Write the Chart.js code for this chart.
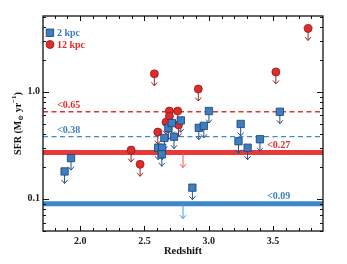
<!DOCTYPE html>
<html>
<head>
<meta charset="utf-8">
<script src="https://cdn.jsdelivr.net/npm/chart.js@4"></script>
<style>
  html, body { margin: 0; padding: 0; background: #fff; }
  #wrap { width: 347px; height: 264px; }
</style>
</head>
<body>
<div id="wrap"><canvas id="chart-sfr" width="347" height="264"></canvas></div>
<script>
// 2 kpc apertures (blue squares, all upper limits)
const blueZ = [1.878, 1.928, 2.606, 2.637, 2.635, 2.655, 2.686, 2.713, 2.730, 2.783,
  2.873, 2.923, 2.962, 3.002, 3.232, 3.249, 3.303, 3.399, 3.554];
const blueSfr = [0.18, 0.24, 0.30, 0.30, 0.26, 0.37, 0.46, 0.51, 0.38, 0.54,
  0.127, 0.46, 0.48, 0.66, 0.345, 0.50, 0.30, 0.36, 0.65];

// 12 kpc apertures (red circles, all upper limits)
const redZ = [2.396, 2.466, 2.577, 2.604, 2.668, 2.694, 2.694, 2.759, 2.765, 2.919, 3.523, 3.774];
const redSfr = [0.285, 0.21, 1.47, 0.42, 0.52, 0.66, 0.59, 0.66, 0.49, 1.06, 1.53, 3.9];

// limits: individual detection limits (dashed) and stacked limits (thick)
const limit12 = 0.65;
const limit2 = 0.38;
const stack12 = 0.27;
const stack2 = 0.09;
const stackZ = 2.8;

const zRange = [1.71, 3.89];
const sfrRange = [0.05, 5.1];
const xTickLabels = [2.0, 2.5, 3.0, 3.5];
const yTickLabels = [0.1, 1.0];

const SERIF = "'Liberation Serif', 'DejaVu Serif', serif";
const BLUE = "#3b7fc2";
const BLUE_DARK = "#1d3f70";
const RED = "#e22a2a";
const RED_DARK = "#8c1c1c";

const toPoints = (xs, ys) => xs.map((x, i) => ({ x: x, y: ys[i] }));
const hLine = (v) => [{ x: zRange[0], y: v }, { x: zRange[1], y: v }];

function drawArrow(ctx, x, y0, len, color) {
  ctx.save();
  ctx.strokeStyle = color;
  ctx.lineWidth = 1;
  ctx.beginPath();
  ctx.moveTo(x, y0);
  ctx.lineTo(x, y0 + len);
  ctx.moveTo(x - 3, y0 + len - 3.5);
  ctx.lineTo(x, y0 + len);
  ctx.lineTo(x + 3, y0 + len - 3.5);
  ctx.stroke();
  ctx.restore();
}

// arrows under the markers (drawn before the marker datasets)
const arrowPlugin = {
  id: "arrows",
  beforeDatasetDraw(chart, args) {
    if (args.index !== 1) return;
    const ctx = chart.ctx;
    const xs = chart.scales.x, ys = chart.scales.y;
    [0, 1].forEach((di) => {
      const ds = chart.data.datasets[di];
      chart.getDatasetMeta(di).data.forEach((pt) => {
        drawArrow(ctx, pt.x, pt.y, 12, ds.arrowColor);
      });
    });
    drawArrow(ctx, xs.getPixelForValue(stackZ), ys.getPixelForValue(stack12), 15, "#ee5a5a");
    drawArrow(ctx, xs.getPixelForValue(stackZ), ys.getPixelForValue(stack2), 15, "#4b98d6");
  },
};

// frame, inward ticks, labels, legend
const decorPlugin = {
  id: "decor",
  afterDraw(chart) {
    const ctx = chart.ctx;
    const a = chart.chartArea;
    const xs = chart.scales.x, ys = chart.scales.y;
    ctx.save();
    ctx.strokeStyle = "#111";
    ctx.lineWidth = 1.3;
    ctx.strokeRect(a.left, a.top, a.right - a.left, a.bottom - a.top);

    ctx.lineWidth = 1;
    ctx.beginPath();
    for (let k = 18; k <= 38; k++) {
      const px = Math.round(xs.getPixelForValue(k / 10)) + 0.5;
      const len = k % 5 === 0 ? 5 : 3;
      ctx.moveTo(px, a.bottom); ctx.lineTo(px, a.bottom - len);
      ctx.moveTo(px, a.top); ctx.lineTo(px, a.top + len);
    }
    [0.01, 0.1, 1].forEach((d) => {
      for (let m = 1; m <= 9; m++) {
        const v = m * d;
        if (v < sfrRange[0] || v > sfrRange[1]) continue;
        const py = Math.round(ys.getPixelForValue(v)) + 0.5;
        const len = m === 1 ? 6 : 3;
        ctx.moveTo(a.left, py); ctx.lineTo(a.left + len, py);
        ctx.moveTo(a.right, py); ctx.lineTo(a.right - len, py);
      }
    });
    ctx.stroke();

    // limit labels
    ctx.font = "bold 10px " + SERIF;
    ctx.textBaseline = "alphabetic";
    ctx.textAlign = "left";
    ctx.fillStyle = RED;
    ctx.fillText("<0.65", xs.getPixelForValue(1.82), ys.getPixelForValue(limit12) - 4);
    ctx.fillText("<0.27", xs.getPixelForValue(3.455), ys.getPixelForValue(stack12) - 5);
    ctx.fillStyle = BLUE;
    ctx.fillText("<0.38", xs.getPixelForValue(1.82), ys.getPixelForValue(limit2) - 4);
    ctx.fillText("<0.09", xs.getPixelForValue(3.455), ys.getPixelForValue(stack2) - 5);

    // legend
    ctx.textBaseline = "middle";
    ctx.lineWidth = 0.8;
    ctx.fillStyle = BLUE;
    ctx.strokeStyle = BLUE_DARK;
    ctx.fillRect(46.2, 29, 7.5, 7.5);
    ctx.strokeRect(46.2, 29, 7.5, 7.5);
    ctx.fillText("2 kpc", 57, 33);
    ctx.fillStyle = RED;
    ctx.strokeStyle = RED_DARK;
    ctx.beginPath();
    ctx.arc(50, 44.5, 4, 0, Math.PI * 2);
    ctx.fill();
    ctx.stroke();
    ctx.fillText("12 kpc", 57, 45);

    // axis titles
    ctx.fillStyle = "#111";
    ctx.font = "bold 10.5px " + SERIF;
    ctx.textAlign = "center";
    ctx.fillText("Redshift", (a.left + a.right) / 2, 251);

    const parts = [
      { t: "SFR (M", s: 10, dy: 0 },
      { t: "\u2299", s: 7, dy: 3 },
      { t: " yr", s: 10, dy: 0 },
      { t: "\u22121", s: 7, dy: -4 },
      { t: ")", s: 10, dy: 0 },
    ];
    let total = 0;
    parts.forEach((p) => {
      ctx.font = "bold " + p.s + "px " + SERIF;
      p.w = ctx.measureText(p.t).width;
      total += p.w;
    });
    ctx.translate(18, (a.top + a.bottom) / 2);
    ctx.rotate(-Math.PI / 2);
    ctx.textAlign = "left";
    let cx = -total / 2;
    parts.forEach((p) => {
      ctx.font = "bold " + p.s + "px " + SERIF;
      ctx.fillText(p.t, cx, p.dy);
      cx += p.w;
    });
    ctx.restore();
  },
};

const chartSfr = new Chart(document.querySelector("#chart-sfr"), {
  type: "scatter",
  data: {
    datasets: [
      {
        label: "2 kpc",
        data: toPoints(blueZ, blueSfr),
        pointStyle: "rect",
        pointRadius: 5.2,
        backgroundColor: BLUE,
        borderColor: BLUE_DARK,
        borderWidth: 0.8,
        arrowColor: "#234f8a",
      },
      {
        label: "12 kpc",
        data: toPoints(redZ, redSfr),
        pointStyle: "circle",
        pointRadius: 4,
        backgroundColor: RED,
        borderColor: RED_DARK,
        borderWidth: 0.8,
        arrowColor: "#9a2a2a",
      },
      {
        type: "line",
        data: hLine(limit12),
        borderColor: "#e03434",
        borderWidth: 1.3,
        borderDash: [5, 3.5],
        pointRadius: 0,
      },
      {
        type: "line",
        data: hLine(limit2),
        borderColor: "#3a8ad0",
        borderWidth: 1.3,
        borderDash: [5, 3.5],
        pointRadius: 0,
      },
      {
        type: "line",
        data: hLine(stack12),
        borderColor: "#e63a3a",
        borderWidth: 5,
        pointRadius: 0,
      },
      {
        type: "line",
        data: hLine(stack2),
        borderColor: "#3c88c9",
        borderWidth: 5,
        pointRadius: 0,
      },
    ],
  },
  options: {
    responsive: false,
    animation: false,
    layout: { padding: { top: 16, right: 24, left: 0, bottom: 0 } },
    plugins: {
      legend: { display: false },
      tooltip: { enabled: false },
    },
    scales: {
      x: {
        type: "linear",
        min: zRange[0],
        max: zRange[1],
        grid: { display: false, drawTicks: false },
        border: { display: false },
        afterFit: (s) => { s.height = 33; },
        ticks: {
          stepSize: 0.1,
          includeBounds: false,
          autoSkip: false,
          maxRotation: 0,
          padding: 4,
          color: "#222",
          font: { family: SERIF, weight: "bold", size: 10 },
          callback: (v) => {
            const t = xTickLabels.find((l) => Math.abs(l - v) < 1e-6);
            return t === undefined ? "" : t.toFixed(1);
          },
        },
      },
      y: {
        type: "logarithmic",
        min: sfrRange[0],
        max: sfrRange[1],
        grid: { display: false, drawTicks: false },
        border: { display: false },
        afterFit: (s) => { s.width = 43; },
        ticks: {
          autoSkip: false,
          padding: 3,
          color: "#222",
          font: { family: SERIF, weight: "bold", size: 10 },
          callback: (v) => {
            const t = yTickLabels.find((l) => Math.abs(l - v) < l * 1e-6);
            return t === undefined ? "" : t.toFixed(1);
          },
        },
      },
    },
  },
  plugins: [arrowPlugin, decorPlugin],
});
</script>
</body>
</html>
